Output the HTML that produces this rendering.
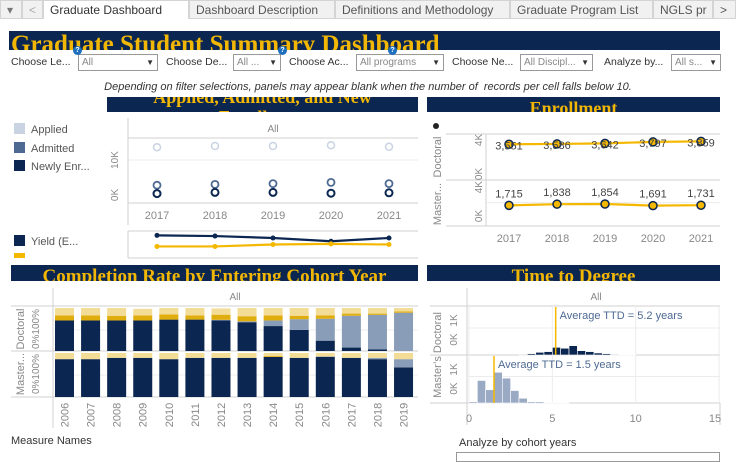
<!DOCTYPE html>
<html><head><meta charset="utf-8"><style>
*{box-sizing:border-box}
body{margin:0;width:736px;height:454px;overflow:hidden;background:#fff;font-family:"Liberation Sans",sans-serif;position:relative}
.abs{position:absolute}
.tab{position:absolute;top:0;height:19px;font-size:12px;color:#555;background:#f1f1f1;border:1px solid #d4d4d4;padding:2px 6px;white-space:nowrap;overflow:hidden}
.banner{position:absolute;background:#0b2650;color:#f2b705;font-family:"Liberation Serif",serif;font-weight:bold;overflow:hidden;white-space:nowrap;text-align:center}
.flbl{position:absolute;top:56px;font-size:10.5px;color:#333}
.dd{position:absolute;top:54px;height:17px;border:1px solid #999;font-size:10px;color:#888;padding:2px 3px;background:#fff}
.dd:after{content:"▼";position:absolute;right:3px;top:3px;font-size:8px;color:#333}
.q{position:absolute;top:46px;width:9px;height:9px;border-radius:50%;background:#1f6fbf;color:#fff;font-size:7px;text-align:center;line-height:9px;font-weight:bold}
svg text{font-family:"Liberation Sans",sans-serif}
</style></head><body>
<div class="tab" style="left:0;width:22px;color:#777">▾</div>
<div class="tab" style="left:22px;width:21px;color:#aaa">&lt;</div>
<div class="tab" style="left:43px;width:146px;background:#fff;color:#333;border-bottom:none">Graduate Dashboard</div>
<div class="tab" style="left:189px;width:146px">Dashboard Description</div>
<div class="tab" style="left:335px;width:175px">Definitions and Methodology</div>
<div class="tab" style="left:510px;width:143px">Graduate Program List</div>
<div class="tab" style="left:653px;width:60px">NGLS pr</div>
<div class="tab" style="left:713px;width:23px;color:#555">&gt;</div>

<div class="banner" style="left:9px;top:31px;width:711px;height:19px;font-size:25px;line-height:28px;text-align:left;padding-left:2px">Graduate Student Summary Dashboard</div>

<div class="flbl" style="left:11px">Choose Le...</div>
<div class="dd" style="left:78px;width:80px">All</div>
<div class="q" style="left:73px">?</div>
<div class="flbl" style="left:166px">Choose De...</div>
<div class="dd" style="left:233px;width:48px">All ...</div>
<div class="flbl" style="left:289px">Choose Ac...</div>
<div class="dd" style="left:356px;width:88px">All programs</div>
<div class="q" style="left:278px">?</div>
<div class="flbl" style="left:452px">Choose Ne...</div>
<div class="dd" style="left:520px;width:73px">All Discipl...</div>
<div class="q" style="left:388px">?</div>
<div class="flbl" style="left:604px">Analyze by...</div>
<div class="dd" style="left:671px;width:50px">All s...</div>
<div class="abs" style="left:0;width:736px;top:81px;text-align:center;font-size:11px;font-style:italic;color:#333">Depending on filter selections, panels may appear blank when the number of &nbsp;records per cell falls below 10.</div>

<div class="banner" style="left:107px;top:97px;width:311px;height:15px;font-size:18px;line-height:20px"><div style="margin-top:-10px">Applied, Admitted, and New</div><div>Enrollment</div></div>
<div class="banner" style="left:427px;top:97px;width:293px;height:15px;font-size:18px;line-height:22px">Enrollment</div>
<div class="banner" style="left:11px;top:265px;width:407px;height:16px;font-size:19px;line-height:24px">Completion Rate by Entering Cohort Year</div>
<div class="banner" style="left:427px;top:265px;width:293px;height:16px;font-size:19px;line-height:24px">Time to Degree</div>

<svg class="abs" style="left:0;top:0" width="736" height="454" id="svg"></svg>

<div class="abs" style="left:11px;top:435px;font-size:11px;color:#333">Measure Names</div>
<div class="abs" style="left:459px;top:437px;font-size:11px;color:#333">Analyze by cohort years</div>
<div class="abs" style="left:456px;top:452px;width:264px;height:10px;border:1px solid #999"></div>

<script>
// Applied/Admitted/Enrolled (thousands)
const years = [2017,2018,2019,2020,2021];
const appliedK = [13.2,13.5,13.5,13.7,13.3];
const admittedK = [3.7,3.9,4.1,4.4,4.1];
const enrolledK = [1.6,1.9,1.9,1.7,1.8];
const yieldPct = [44,43,40,35,40];
const selectPct = [27,27,30,31,30];
// Enrollment
const doctoralEnr = [3551,3586,3642,3797,3859];
const masterEnr = [1715,1838,1854,1691,1731];
const enrLabelsD = ["3,551","3,586","3,642","3,797","3,859"];
const enrLabelsM = ["1,715","1,838","1,854","1,691","1,731"];
// Completion
const cohorts = [2006,2007,2008,2009,2010,2011,2012,2013,2014,2015,2016,2017,2018,2019];
const docCompleted = [0.71,0.71,0.71,0.71,0.73,0.73,0.71,0.67,0.58,0.49,0.24,0.08,0.04,0.0];
const docEnrolled = [0,0,0,0,0,0,0.015,0.02,0.13,0.25,0.51,0.74,0.80,0.89];
const docOther = [0.12,0.12,0.11,0.12,0.12,0.10,0.12,0.12,0.12,0.08,0.08,0.05,0.03,0.03];
const docAttrition = [0.17,0.17,0.18,0.15,0.15,0.17,0.145,0.19,0.17,0.18,0.17,0.13,0.13,0.08];
const msCompleted = [0.86,0.86,0.89,0.89,0.86,0.89,0.89,0.89,0.91,0.89,0.91,0.89,0.86,0.67];
const msEnrolled = [0,0,0,0,0,0,0,0,0,0,0.01,0,0.03,0.19];
const msOther = [0,0,0,0,0,0,0,0,0.02,0,0,0,0,0];
const msAttrition = [0.14,0.14,0.11,0.11,0.14,0.11,0.11,0.11,0.07,0.11,0.08,0.11,0.11,0.14];
// Time to degree histograms (bin start years, width 0.5)
const docBins = [3.0,3.5,4.0,4.5,5.0,5.5,6.0,6.5,7.0,7.5,8.0,8.5,9.0,9.5];
const docCounts = [25,50,100,125,285,250,345,160,125,75,50,25,12,12];
const msBins = [0,0.5,1.0,1.5,2.0,2.5,3.0,3.5,4.0,4.5,5.0,5.5];
const msCounts = [50,850,500,1160,940,470,180,50,50,20,10,10];
const docAvg = 5.2, msAvg = 1.5;

const S = document.getElementById('svg');
const NS = 'http://www.w3.org/2000/svg';
function mk(tag, attrs, name, inter, txt){
  const e = document.createElementNS(NS, tag);
  for (const k in attrs) e.setAttribute(k, attrs[k]);
  
  
  if (txt !== undefined) e.textContent = txt;
  S.appendChild(e); return e;
}
const NAVY='#0b2650', GOLD='#f5b800', GRID='#ececec', AX='#d0d0d0', TXT='#888';

// ---- Chart 1 ----
const x1 = i => 157 + i*58;
const y1 = v => 200 - v*4;
mk('text',{x:273,y:132,'font-size':10,fill:TXT,'text-anchor':'middle'},'facet-all-label',false,'All');
mk('line',{x1:128,y1:138,x2:418,y2:138,stroke:AX},'header-line',false);
mk('line',{x1:128,y1:y1(10),x2:418,y2:y1(10),stroke:GRID},'gridline-10k',false);
mk('line',{x1:128,y1:203,x2:418,y2:203,stroke:AX},'x-axis-line',false);
mk('line',{x1:128,y1:118,x2:128,y2:225,stroke:AX},'y-axis-line',false);
[['10K',10],['0K',0]].forEach(([t,v])=>{
  const yy = v===0 ? y1(v)-5 : y1(v);
  mk('text',{x:0,y:0,'font-size':10,fill:TXT,'text-anchor':'middle',transform:`translate(118,${yy}) rotate(-90)`},'y-tick-'+t,false,t);
});
years.forEach((yr,i)=>{
  mk('text',{x:x1(i),y:219,'font-size':11,fill:TXT,'text-anchor':'middle'},'x-tick-'+yr,false,String(yr));
  mk('circle',{cx:x1(i),cy:y1(appliedK[i]),r:3.5,fill:'none',stroke:'#c9d3e2','stroke-width':1.5},'applied-point',true);
  mk('circle',{cx:x1(i),cy:y1(admittedK[i]),r:3.5,fill:'none',stroke:'#4e6a92','stroke-width':1.8},'admitted-point',true);
  mk('circle',{cx:x1(i),cy:y1(enrolledK[i]),r:3.5,fill:'none',stroke:NAVY,'stroke-width':2},'enrolled-point',true);
});
[['Applied','#c9d3e2',129],['Admitted','#4e6a92',148],['Newly Enr...',NAVY,166]].forEach(([t,c,y])=>{
  mk('rect',{x:14,y:y-6,width:11,height:11,fill:c},'legend-swatch-'+t.toLowerCase().replace(/\W+/g,''),false);
  mk('text',{x:31,y:y+4,'font-size':11,fill:'#555'},'legend-entry-'+t.toLowerCase().replace(/\W+/g,''),true,t);
});
// small rates chart
mk('line',{x1:128,y1:231,x2:418,y2:231,stroke:AX},'rates-top-line',false);
mk('line',{x1:128,y1:258,x2:418,y2:258,stroke:AX},'rates-bottom-line',false);
mk('line',{x1:128,y1:231,x2:128,y2:258,stroke:AX},'rates-axis',false);
const yr2 = v => 264 - v*0.65;
function poly(arr, fx, fy, col, name, pts){
  mk('polyline',{points:arr.map((v,i)=>fx(i)+','+fy(v)).join(' '),fill:'none',stroke:col,'stroke-width':2.2},name+'-line',false);
  if(pts) arr.forEach((v,i)=>mk('circle',{cx:fx(i),cy:fy(v),r:2.5,fill:col},name+'-point',true));
}
poly(yieldPct,x1,yr2,NAVY,'yield',true);
poly(selectPct,x1,yr2,GOLD,'selectivity',true);
mk('rect',{x:14,y:235,width:11,height:11,fill:NAVY},'legend-swatch-yield',false);
mk('text',{x:31,y:245,'font-size':11,fill:'#555'},'legend-entry-yield',true,'Yield (E...');
mk('rect',{x:14,y:253,width:11,height:5,fill:GOLD},'legend-swatch-selectivity',false);

// ---- Enrollment ----
const x2 = i => 509 + i*48;
const yD = v => 178 - v/1000*9.5;
const yM = v => 222 - v/1000*9.7;
mk('line',{x1:446,y1:134,x2:720,y2:134,stroke:AX},'enr-top-line',false);
mk('line',{x1:446,y1:180,x2:720,y2:180,stroke:AX},'enr-panel-divider',false);
mk('line',{x1:446,y1:226,x2:720,y2:226,stroke:AX},'enr-x-axis',false);
mk('line',{x1:486,y1:134,x2:486,y2:226,stroke:AX},'enr-y-axis',false);
mk('line',{x1:486,y1:yM(2000),x2:720,y2:yM(2000),stroke:GRID},'enr-grid',false);
mk('circle',{cx:436,cy:126,r:3,fill:'#222'},'enr-legend-dot',false);
[['Doctoral',157],['Master...',204]].forEach(([t,y])=>mk('text',{x:0,y:0,'font-size':11,fill:TXT,'text-anchor':'middle',transform:`translate(441,${y}) rotate(-90)`},'enr-row-'+t.replace(/\W/g,'').toLowerCase(),false,t));
[['4K',yD(4000)],['0K',yD(0)-4],['4K',yM(4000)+4],['0K',yM(0)-6]].forEach(([t,y],k)=>mk('text',{x:0,y:0,'font-size':10,fill:TXT,'text-anchor':'middle',transform:`translate(482,${y}) rotate(-90)`},'enr-y-tick-'+k,false,t));
poly(doctoralEnr,x2,yD,GOLD,'doctoral-enrollment',false);
poly(masterEnr,x2,yM,GOLD,'masters-enrollment',false);
years.forEach((yr,i)=>{
  mk('circle',{cx:x2(i),cy:yD(doctoralEnr[i]),r:4,fill:GOLD,stroke:NAVY,'stroke-width':1.5},'doctoral-enr-marker',true);
  mk('circle',{cx:x2(i),cy:yM(masterEnr[i]),r:4,fill:GOLD,stroke:NAVY,'stroke-width':1.5},'masters-enr-marker',true);
  mk('text',{x:x2(i),y:yD(doctoralEnr[i])+5,'font-size':11,fill:'#444','text-anchor':'middle'},'doctoral-enr-label',false,enrLabelsD[i]);
  mk('text',{x:x2(i),y:yM(masterEnr[i])-8,'font-size':11,fill:'#444','text-anchor':'middle'},'masters-enr-label',false,enrLabelsM[i]);
  mk('text',{x:x2(i),y:242,'font-size':11,fill:TXT,'text-anchor':'middle'},'enr-x-tick-'+yr,false,String(yr));
});

// ---- Completion ----
const xb = i => 55 + i*26.08;
const BW = 19;
const dBase=351, dH=43, mBase=397, mH=44;
mk('text',{x:235,y:300,'font-size':10,fill:TXT,'text-anchor':'middle'},'completion-all-label',false,'All');
mk('line',{x1:11,y1:306,x2:418,y2:306,stroke:AX},'completion-header-line',false);
mk('line',{x1:11,y1:351,x2:418,y2:351,stroke:AX},'completion-divider',false);
mk('line',{x1:11,y1:397,x2:418,y2:397,stroke:AX},'completion-x-axis',false);
mk('line',{x1:53,y1:288,x2:53,y2:428,stroke:AX},'completion-y-axis',false);
mk('line',{x1:53,y1:330,x2:418,y2:330,stroke:GRID},'completion-grid-doc',false);
mk('line',{x1:53,y1:375,x2:418,y2:375,stroke:GRID},'completion-grid-ms',false);
function stack(base,h,segs,cols,name){
  cohorts.forEach((c,i)=>{
    let y=base;
    segs.forEach((arr,k)=>{
      const hh=arr[i]*h;
      if(hh<=0) return;
      y-=hh;
      mk('rect',{x:xb(i),y:y,width:BW,height:hh,fill:cols[k]},name+'-bar-'+c,true);
    });
  });
}
const cols=[NAVY,'#8a9db8','#e0ad0e','#f3dc96'];
stack(dBase,dH,[docCompleted,docEnrolled,docOther,docAttrition],cols,'doctoral');
stack(mBase,mH,[msCompleted,msEnrolled,msOther,msAttrition],cols,'masters');
cohorts.forEach((c,i)=>mk('text',{x:0,y:0,'font-size':11,fill:TXT,'text-anchor':'middle',transform:`translate(${xb(i)+BW/2+4},${415}) rotate(-90)`},'cohort-tick-'+c,false,String(c)));
[['Doctoral',329],['Master...',374]].forEach(([t,y])=>mk('text',{x:0,y:0,'font-size':11,fill:TXT,'text-anchor':'middle',transform:`translate(24,${y}) rotate(-90)`},'completion-row-'+t.replace(/\W/g,'').toLowerCase(),false,t));
[['0%100%',329],['0%100%',374]].forEach(([t,y],k)=>mk('text',{x:0,y:0,'font-size':10,fill:TXT,'text-anchor':'middle',transform:`translate(39,${y}) rotate(-90)`},'completion-y-ticks-'+k,false,t));

// ---- Time to degree ----
const xt = v => 469 + v*16.67;
const yTD = v => 355 - v/1000*27;
const yTM = v => 403 - v/1000*26.5;
mk('text',{x:596,y:300,'font-size':10,fill:TXT,'text-anchor':'middle'},'ttd-all-label',false,'All');
mk('line',{x1:430,y1:306,x2:720,y2:306,stroke:AX},'ttd-header-line',false);
mk('line',{x1:430,y1:355,x2:720,y2:355,stroke:AX},'ttd-divider',false);
mk('line',{x1:430,y1:403,x2:720,y2:403,stroke:AX},'ttd-x-axis',false);
mk('line',{x1:467,y1:288,x2:467,y2:425,stroke:AX},'ttd-y-axis',false);
mk('line',{x1:720,y1:403,x2:720,y2:425,stroke:AX},'ttd-right-edge',false);
mk('line',{x1:467,y1:yTD(1000),x2:720,y2:yTD(1000),stroke:GRID},'ttd-grid-doc',false);
mk('line',{x1:467,y1:yTM(1000),x2:720,y2:yTM(1000),stroke:GRID},'ttd-grid-ms',false);
[0,5,10,15].forEach(v=>{
  mk('line',{x1:xt(v),y1:306,x2:xt(v),y2:403,stroke:GRID},'ttd-vgrid-'+v,false);
  mk('text',{x:xt(v)+(v===15?-4:0),y:422,'font-size':11,fill:TXT,'text-anchor':'middle'},'ttd-x-tick-'+v,false,String(v));
});
docBins.forEach((b,i)=>mk('rect',{x:xt(b),y:yTD(docCounts[i]),width:8.3,height:docCounts[i]/1000*27,fill:NAVY,stroke:'#fff','stroke-width':0.6},'doctoral-ttd-bar',true));
msBins.forEach((b,i)=>mk('rect',{x:xt(b),y:yTM(msCounts[i]),width:8.3,height:msCounts[i]/1000*26.5,fill:'#9aaac4',stroke:'#fff','stroke-width':0.6},'masters-ttd-bar',true));
mk('line',{x1:xt(docAvg),y1:307,x2:xt(docAvg),y2:355,stroke:GOLD,'stroke-width':1.5},'doctoral-avg-line',false);
mk('line',{x1:xt(msAvg),y1:356,x2:xt(msAvg),y2:403,stroke:GOLD,'stroke-width':1.5},'masters-avg-line',false);
mk('text',{x:xt(docAvg)+4,y:319,'font-size':11,fill:'#4e6a92'},'doctoral-avg-label',false,'Average TTD  = '+docAvg+'  years');
mk('text',{x:xt(msAvg)+4,y:368,'font-size':11,fill:'#4e6a92'},'masters-avg-label',false,'Average TTD  = '+msAvg+'  years');
mk('text',{x:0,y:0,'font-size':11,fill:TXT,'text-anchor':'middle',transform:'translate(441,355) rotate(-90)'},'ttd-row-labels',false,'Master\u2019s Doctoral');
[['0K 1K',330],['0K 1K',379]].forEach(([t,y],k)=>mk('text',{x:0,y:0,'font-size':10,fill:TXT,'text-anchor':'middle','word-spacing':'4',transform:`translate(457,${y}) rotate(-90)`},'ttd-y-ticks-'+k,false,t));
</script>
</body></html>
